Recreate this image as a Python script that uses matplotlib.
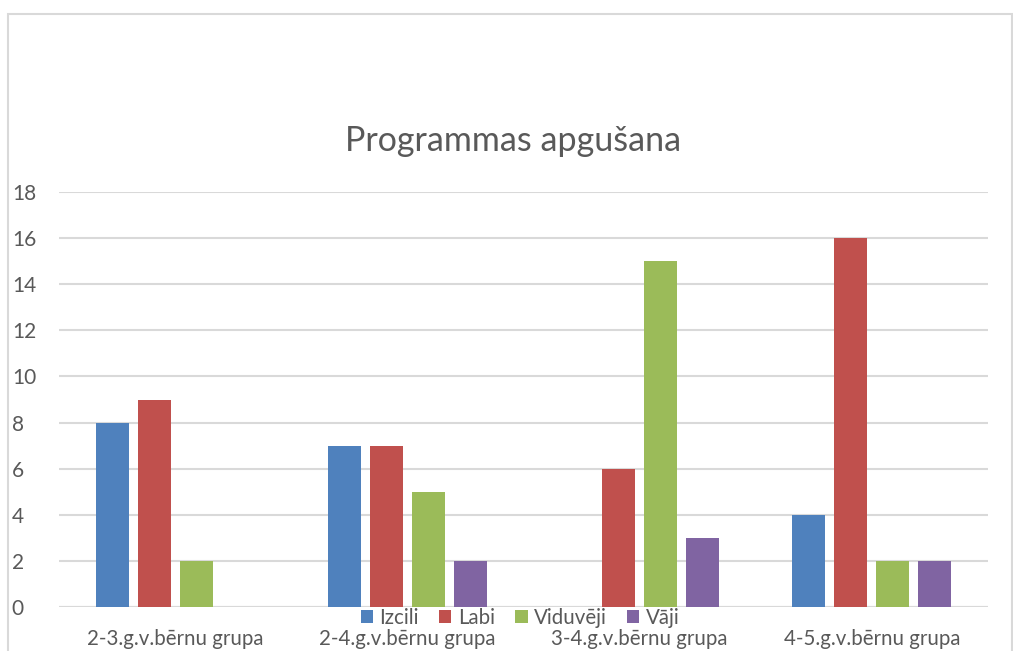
import matplotlib
matplotlib.use("Agg")
import matplotlib.pyplot as plt
import numpy as np
from matplotlib.patches import Rectangle

categories = ["2-3.g.v.bērnu grupa", "2-4.g.v.bērnu grupa", "3-4.g.v.bērnu grupa", "4-5.g.v.bērnu grupa"]
series_names = ["Izcili", "Labi", "Viduvēji", "Vāji"]
izcili = [8, 7, 0, 4]
labi = [9, 7, 6, 16]
viduveji = [2, 5, 15, 2]
vaji = [0, 2, 3, 2]
yticks = [0, 2, 4, 6, 8, 10, 12, 14, 16, 18]
title = "Programmas apgušana"

colors = ["#4F81BD", "#C0504D", "#9BBB59", "#8064A2"]
plt.rcParams['font.family'] = ['Lato', 'DejaVu Sans']
text_color = "#595959"

fig = plt.figure(figsize=(10.13, 6.51), dpi=100)
ax = fig.add_axes([59/1013, 44/651, 929/1013, 415/651])

x = np.arange(len(categories))
step = 42/232
width = 33/232
data = [izcili, labi, viduveji, vaji]
handles = []
for i, (vals, c, name) in enumerate(zip(data, colors, series_names)):
    h = ax.bar(x + (i - 1.5) * step, vals, width, color=c, label=name, zorder=3)
    handles.append(h)

ax.set_xlim(-0.5, len(categories) - 0.5)
ax.set_ylim(0, 18)
ax.set_yticks(yticks)
ax.set_yticklabels([str(t) for t in yticks], ha='left', fontsize=15, color=text_color)
ax.tick_params(axis='y', length=0, pad=34)
ax.set_xticks(x)
ax.set_xticklabels(categories, fontsize=14.8, color=text_color)
ax.tick_params(axis='x', length=0, pad=16)
ax.grid(axis='y', color="#D9D9D9", linewidth=1.5, zorder=0)
for s in ax.spines.values():
    s.set_visible(False)
ax.axhline(0, color="#D9D9D9", linewidth=1.5, zorder=2)

fig.text(513/1013, 1 - 141/651, title, ha='center', va='center', fontsize=24.5, color=text_color)

leg = fig.legend(handles=handles, labels=series_names, loc='center', bbox_to_anchor=(520/1013, 1 - 618/651),
                 ncol=4, frameon=False, fontsize=14.8, handlelength=0.6, handleheight=0.6,
                 handletextpad=0.3, columnspacing=1.0, labelcolor=text_color, borderpad=0)

fig.patches.append(Rectangle((8/1013, -0.05), 1004/1013, 1.05 - 14/651, transform=fig.transFigure,
                             fill=False, edgecolor="#D9D9D9", linewidth=1.5))

fig.savefig("out.png", dpi=100)
